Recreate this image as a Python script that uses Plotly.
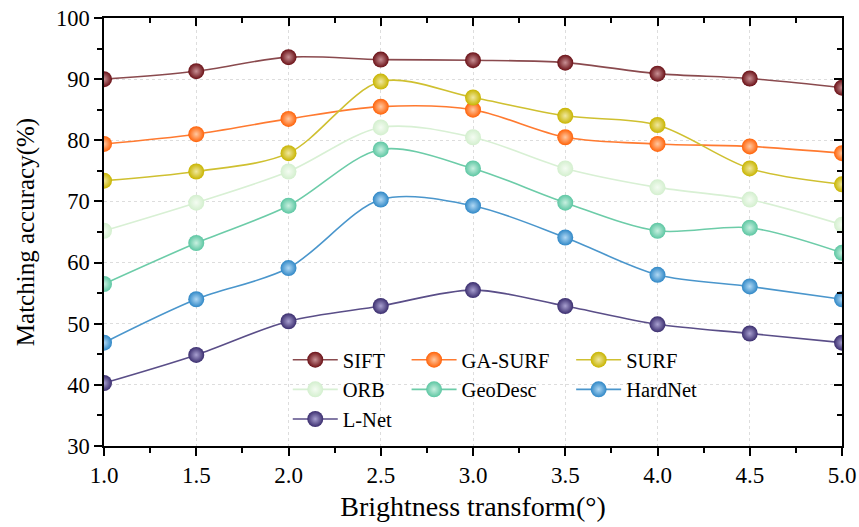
import plotly.graph_objects as go

x_vals = [1.0, 1.5, 2.0, 2.5, 3.0, 3.5, 4.0, 4.5, 5.0]
sift = [90.0, 91.3, 93.6, 93.2, 93.1, 92.7, 90.9, 90.1, 88.6]
ga_surf = [79.4, 81.0, 83.5, 85.5, 85.0, 80.5, 79.4, 79.0, 77.9]
surf = [73.4, 74.9, 77.9, 89.6, 87.0, 84.0, 82.5, 75.4, 72.8]
orb = [65.2, 69.8, 74.9, 82.1, 80.5, 75.4, 72.3, 70.3, 66.2]
geodesc = [56.5, 63.2, 69.3, 78.5, 75.4, 69.8, 65.2, 65.7, 61.6]
hardnet = [46.9, 54.0, 59.1, 70.3, 69.3, 64.1, 58.0, 56.1, 54.0]
lnet = [40.3, 44.9, 50.4, 52.9, 55.5, 52.9, 49.9, 48.4, 46.9]

names = ["SIFT", "GA-SURF", "SURF", "ORB", "GeoDesc", "HardNet", "L-Net"]
series = [sift, ga_surf, surf, orb, geodesc, hardnet, lnet]
marker_colors = ["#6a1016", "#ff6208", "#c8b400", "#d3efce", "#5cc6a2", "#2f87c6", "#3a2d6e"]
line_colors = ["#8a4a4e", "#ff7a30", "#cfc030", "#d8f0d4", "#6ccca8", "#4a96cc", "#5a4e88"]
highlight = ["#c89094", "#ffc8a0", "#f0e8a0", "#f4fcf2", "#c8f0e0", "#b0d8f4", "#a8a0d0"]
legend_ids = ["legend", "legend2", "legend3", "legend", "legend2", "legend3", "legend"]

fig = go.Figure()
for n, ys, mc, lc, hc, lg in zip(names, series, marker_colors, line_colors, highlight, legend_ids):
    fig.add_trace(go.Scatter(
        x=x_vals, y=ys, name=n, mode="lines+markers", legend=lg,
        line=dict(color=lc, width=1.6, shape="spline", smoothing=0.9),
        marker=dict(color=mc, size=16, line=dict(width=0),
                    gradient=dict(type="radial", color=hc)),
    ))

# invisible trace for mirrored inside-tick axes
fig.add_trace(go.Scatter(x=x_vals, y=sift, xaxis="x2", yaxis="y2",
                         mode="markers", marker=dict(opacity=0),
                         showlegend=False, hoverinfo="skip"))

font_family = "Liberation Serif"
legend_common = dict(orientation="v", yanchor="top", xanchor="left",
                     bgcolor="rgba(0,0,0,0)", font=dict(size=20.5, family=font_family),
                     itemwidth=45, tracegroupgap=0)
fig.update_layout(
    width=859, height=527,
    margin=dict(l=104, r=17, t=18, b=81, autoexpand=False),
    paper_bgcolor="white", plot_bgcolor="white",
    font=dict(family=font_family, color="black"),
    xaxis=dict(range=[1, 5], dtick=0.5, tick0=1, tickformat=".1f",
               showline=True, linecolor="black", linewidth=1.5,
               ticks="outside", ticklen=8, tickwidth=1.5, tickcolor="black",
               minor=dict(dtick=0.25, ticks="outside", ticklen=5, tickwidth=1.5, tickcolor="black", showgrid=False),
               showgrid=True, gridcolor="#dddddd", griddash="dot", gridwidth=1,
               zeroline=False, automargin=False, ticklabeloverflow="allow",
               tickfont=dict(size=23, family=font_family),
               title=dict(text="Brightness transform(°)", font=dict(size=28, family=font_family), standoff=9)),
    yaxis=dict(range=[30, 100], dtick=10, tick0=30,
               showline=True, linecolor="black", linewidth=1.5,
               ticks="outside", ticklen=8, tickwidth=1.5, tickcolor="black",
               minor=dict(dtick=5, ticks="outside", ticklen=5, tickwidth=1.5, tickcolor="black", showgrid=False),
               showgrid=True, gridcolor="#dddddd", griddash="dot", gridwidth=1,
               zeroline=False, automargin=False, ticklabeloverflow="allow",
               tickfont=dict(size=22.5, family=font_family),
               title=dict(text="Matching accuracy(%)", font=dict(size=25, family=font_family), standoff=14)),
    xaxis2=dict(overlaying="x", matches="x", side="top", anchor="y2",
                range=[1, 5], dtick=0.5, tick0=1,
                showline=True, linecolor="black", linewidth=1.5,
                ticks="inside", ticklen=8, tickwidth=1.5, tickcolor="black",
                minor=dict(dtick=0.25, ticks="inside", ticklen=5, tickwidth=1.5, tickcolor="black"),
                showticklabels=False, showgrid=False, zeroline=False),
    yaxis2=dict(overlaying="y", matches="y", side="right", anchor="x2",
                range=[30, 100], dtick=10, tick0=30,
                showline=True, linecolor="black", linewidth=1.5,
                ticks="inside", ticklen=8, tickwidth=1.5, tickcolor="black",
                minor=dict(dtick=5, ticks="inside", ticklen=5, tickwidth=1.5, tickcolor="black"),
                showticklabels=False, showgrid=False, zeroline=False),
    legend=dict(x=0.249, y=0.248, **legend_common),
    legend2=dict(x=0.410, y=0.248, **legend_common),
    legend3=dict(x=0.633, y=0.248, **legend_common),
    showlegend=True,
)

fig.write_html("out.html", config={"displayModeBar": False},
               post_script="document.body.style.margin='0px';")
